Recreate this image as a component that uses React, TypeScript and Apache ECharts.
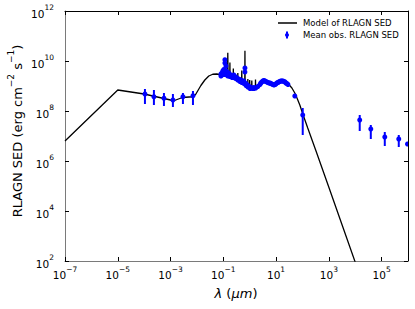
import React, { useEffect, useRef } from "react";
import * as echarts from "echarts";

// Model SED as log10(lambda / um) and log10(SED)
const modelLogLambda = [
  -7.0, -5.0, -4.5, -4.0, -3.5, -3.0, -2.85, -2.55, -2.3, -2.15, -2.05, -1.95, -1.85, -1.7, -1.55, -1.4, -1.25, -1.1, -0.95,
  -0.84, -0.83, -0.82, -0.756, -0.75, -0.744, -0.626, -0.62, -0.614, -0.456, -0.45, -0.444, -0.306, -0.3, -0.294,
  -0.186, -0.18, -0.174, -0.076, -0.07, -0.064, -0.006, 0.0, 0.006, 0.074, 0.08, 0.086, 0.15, 0.214, 0.22, 0.226,
  0.35, 0.5, 0.6, 0.75, 0.9, 1.05, 1.2, 1.35, 1.45, 1.6, 1.71, 1.8, 1.9, 2.0, 2.2, 2.5, 3.0, 3.5, 4.0, 4.3,
];
const modelLogFlux = [
  6.8, 8.84, 8.76, 8.68, 8.56, 8.44, 8.42, 8.54, 8.56, 8.57, 8.66, 8.84, 9.02, 9.24, 9.4, 9.47, 9.48, 9.45, 9.42,
  9.38, 10.33, 9.38, 9.35, 9.94, 9.35, 9.31, 9.7, 9.31, 9.25, 9.52, 9.25, 9.18, 9.62, 9.18,
  9.12, 10.41, 9.12, 9.0, 9.28, 9.0, 8.94, 9.24, 8.94, 8.9, 9.22, 8.9, 8.89, 8.92, 9.26, 8.92,
  9.02, 9.14, 9.16, 9.12, 9.1, 9.14, 9.18, 9.16, 9.1, 8.92, 8.72, 8.5, 8.24, 7.92, 7.32, 6.44, 4.95, 3.45, 1.95, 1.05,
];

// Observed points with error bars: log10 values of centre, lower and upper bar ends
const obsLogLambda = [-3.97, -3.63, -3.25, -2.91, -2.53, -2.15, 1.71, 2.01, 4.17, 4.59, 5.12, 5.65, 5.98];
const obsLogFlux = [8.68, 8.57, 8.51, 8.44, 8.57, 8.61, 8.6, 7.84, 7.64, 7.28, 6.96, 6.88, 6.68];
const obsLogLo = [8.28, 8.24, 8.2, 8.16, 8.28, 8.24, 8.52, 7.04, 7.2, 6.88, 6.6, 6.56, 6.62];
const obsLogHi = [8.88, 8.84, 8.72, 8.68, 8.72, 8.8, 8.68, 8.12, 7.84, 7.44, 7.16, 7.04, 6.74];

// Dense cluster of observed points (no visible error bars)
const clusterLogLambda = [
  -1.09, -1.09, -1.05, -1.05, -1.02, -1.02, -0.98, -0.98, -0.98, -0.94, -0.94, -0.94, -0.94, -0.9, -0.9, -0.9,
  -0.86, -0.86, -0.83, -0.83, -0.79, -0.79, -0.75, -0.75, -0.71, -0.67, -0.67, -0.63, -0.6, -0.6, -0.56, -0.52, -0.52,
  -0.48, -0.45, -0.45, -0.41, -0.37, -0.37, -0.33, -0.3, -0.3, -0.26, -0.22, -0.22, -0.18, -0.18, -0.14, -0.14,
  -0.1, -0.07, -0.07, -0.03, 0.01, 0.01, 0.05, 0.08, 0.12, 0.16, 0.16, 0.23, 0.31, 0.39, 0.42, 0.46, 0.5, 0.54,
  0.58, 0.61, 0.65, 0.69, 0.73, 0.77, 0.8, 0.84, 0.88, 0.92, 0.96, 0.99, 1.03, 1.07, 1.1, 1.14, 1.18, 1.22, 1.26,
  1.3, 1.34, 1.37, 1.41, 1.45,
];
const clusterLogFlux = [
  9.4, 9.48, 9.52, 9.44, 9.6, 9.5, 9.56, 9.66, 9.46, 10.05, 9.92, 9.58, 9.48, 9.8, 9.62, 9.46,
  9.56, 9.44, 9.5, 9.4, 9.52, 9.42, 9.46, 9.38, 9.4, 9.4, 9.34, 9.38, 9.44, 9.34, 9.32, 9.36, 9.3,
  9.28, 9.3, 9.24, 9.24, 9.26, 9.18, 9.2, 9.22, 9.14, 9.16, 9.2, 9.1, 9.72, 9.56, 9.1, 9.02,
  9.04, 9.02, 8.96, 8.98, 8.96, 8.9, 8.92, 8.92, 8.9, 8.9, 8.94, 8.92, 8.98, 9.06, 9.12, 9.16, 9.2, 9.22,
  9.2, 9.18, 9.16, 9.14, 9.12, 9.12, 9.1, 9.08, 9.06, 9.04, 9.06, 9.08, 9.12, 9.14, 9.16, 9.18, 9.2, 9.2, 9.2,
  9.18, 9.16, 9.12, 9.1, 9.06,
];

const xTickExponents = [-7, -5, -3, -1, 1, 3, 5];
const yTickExponents = [2, 4, 6, 8, 10, 12];

const FONT = "DejaVu Sans";
const BLUE = "#0000ff";

const pow10 = (v: number) => Math.pow(10, v);

const tickRich = {
  b: { fontFamily: FONT, fontSize: 10.5, lineHeight: 20, color: "#000" },
  s: { fontFamily: FONT, fontSize: 7.5, lineHeight: 8, verticalAlign: "top", color: "#000" },
};

const makeFormatter = (allowed: number[]) => (v: number) => {
  const e = Math.round(Math.log10(v));
  if (!allowed.includes(e)) return "";
  const es = e < 0 ? "\u2212" + Math.abs(e) : String(e);
  return `{b|10}{s|${es}}`;
};

export default function App() {
  const ref = useRef<HTMLDivElement>(null);

  useEffect(() => {
    if (!ref.current) return;
    const chart = echarts.init(ref.current, undefined, { renderer: "svg" });

    const modelData = modelLogLambda.map((lx, i) => [pow10(lx), pow10(modelLogFlux[i])]);
    const obsData = obsLogLambda.map((lx, i) => [
      pow10(lx),
      pow10(obsLogFlux[i]),
      pow10(obsLogLo[i]),
      pow10(obsLogHi[i]),
    ]);
    const clusterData = clusterLogLambda.map((lx, i) => [
      pow10(lx),
      pow10(clusterLogFlux[i]),
      pow10(clusterLogFlux[i]),
      pow10(clusterLogFlux[i]),
    ]);

    const renderErr = (params: any, api: any) => {
      const x = api.value(0);
      const y = api.value(1);
      const lo = api.value(2);
      const hi = api.value(3);
      const p = api.coord([x, y]);
      const children: any[] = [];
      if (hi > lo) {
        const pl = api.coord([x, lo]);
        const ph = api.coord([x, hi]);
        children.push({
          type: "line",
          shape: { x1: p[0], y1: ph[1], x2: p[0], y2: pl[1] },
          style: { stroke: BLUE, lineWidth: 2 },
        });
      }
      children.push({
        type: "circle",
        shape: { cx: p[0], cy: p[1], r: 2.5 },
        style: { fill: BLUE },
      });
      return { type: "group", children };
    };

    const xBase = {
      type: "log" as const,
      logBase: 10,
      min: 1e-7,
      max: 1e6,
      interval: 2,
      splitLine: { show: false },
      axisTick: { show: true, inside: true, length: 4, lineStyle: { color: "#000", width: 1 } },
    };
    const yBase = {
      type: "log" as const,
      logBase: 10,
      min: 1e2,
      max: 1e12,
      interval: 2,
      splitLine: { show: false },
      axisTick: { show: true, inside: true, length: 4, lineStyle: { color: "#000", width: 1 } },
    };

    chart.setOption({
      animation: false,
      grid: { left: 65, right: 7, top: 11, bottom: 48, containLabel: false },
      xAxis: [
        {
          ...xBase,
          position: "bottom",
          axisLine: { show: true, onZero: false, lineStyle: { color: "#7a7a7a", width: 1 } },
          axisLabel: {
            show: true,
            margin: 4,
            formatter: makeFormatter(xTickExponents),
            rich: tickRich,
            showMaxLabel: false,
            hideOverlap: false,
          },
        },
        {
          ...xBase,
          position: "top",
          axisLine: { show: true, onZero: false, lineStyle: { color: "#000", width: 1 } },
          axisLabel: { show: false },
        },
      ],
      yAxis: [
        {
          ...yBase,
          position: "left",
          axisLine: { show: true, onZero: false, lineStyle: { color: "#7a7a7a", width: 1 } },
          axisLabel: {
            show: true,
            margin: 11,
            padding: [5, 0, 0, 0],
            formatter: makeFormatter(yTickExponents),
            rich: tickRich,
            hideOverlap: false,
          },
        },
        {
          ...yBase,
          position: "right",
          axisLine: { show: true, onZero: false, lineStyle: { color: "#000", width: 1 } },
          axisLabel: { show: false },
        },
      ],
      series: [
        {
          type: "line",
          name: "Model of RLAGN SED",
          xAxisIndex: 0,
          yAxisIndex: 0,
          data: modelData,
          showSymbol: false,
          symbol: "none",
          clip: true,
          lineStyle: { color: "#000", width: 1.3 },
          z: 2,
        },
        {
          type: "custom",
          name: "Mean obs. RLAGN SED",
          xAxisIndex: 0,
          yAxisIndex: 0,
          clip: true,
          renderItem: renderErr,
          encode: { x: 0, y: 1 },
          data: clusterData,
          z: 3,
        },
        {
          type: "custom",
          name: "Mean obs. RLAGN SED (bars)",
          xAxisIndex: 0,
          yAxisIndex: 0,
          clip: true,
          renderItem: renderErr,
          encode: { x: 0, y: 1 },
          data: obsData,
          z: 3,
        },
      ],
      graphic: [
        {
          type: "text",
          x: 17,
          y: 131,
          rotation: Math.PI / 2,
          style: {
            text: "{t|RLAGN SED (erg cm}{u|\u22122}{t| s}{u|\u22121}{t|)}",
            align: "center",
            verticalAlign: "middle",
            rich: {
              t: { fontFamily: FONT, fontSize: 13, lineHeight: 22, fill: "#000" },
              u: { fontFamily: FONT, fontSize: 9, lineHeight: 11, verticalAlign: "top", fill: "#000" },
            },
          },
        },
        {
          type: "text",
          x: 236,
          y: 293,
          style: {
            text: "{i|\u03bb}{n| (}{i|\u03bcm}{n|)}",
            align: "center",
            verticalAlign: "middle",
            rich: {
              i: { fontFamily: FONT, fontSize: 13, fontStyle: "italic", fill: "#000" },
              n: { fontFamily: FONT, fontSize: 13, fill: "#000" },
            },
          },
        },
        {
          type: "line",
          shape: { x1: 278, y1: 23, x2: 297, y2: 23 },
          style: { stroke: "#000", lineWidth: 1.5 },
        },
        {
          type: "text",
          x: 303,
          y: 23,
          style: {
            text: "Model of RLAGN SED",
            fontFamily: FONT,
            fontSize: 8.5,
            fill: "#000",
            align: "left",
            verticalAlign: "middle",
          },
        },
        {
          type: "line",
          shape: { x1: 287, y1: 31.5, x2: 287, y2: 38.5 },
          style: { stroke: BLUE, lineWidth: 2 },
        },
        {
          type: "circle",
          shape: { cx: 287, cy: 35, r: 2 },
          style: { fill: BLUE },
        },
        {
          type: "text",
          x: 303,
          y: 35,
          style: {
            text: "Mean obs. RLAGN SED",
            fontFamily: FONT,
            fontSize: 8.5,
            fill: "#000",
            align: "left",
            verticalAlign: "middle",
          },
        },
      ],
    });

    return () => chart.dispose();
  }, []);

  return (
    <div
      ref={ref}
      style={{ position: "fixed", left: 0, top: 0, width: 415, height: 309, background: "#fff" }}
    />
  );
}
